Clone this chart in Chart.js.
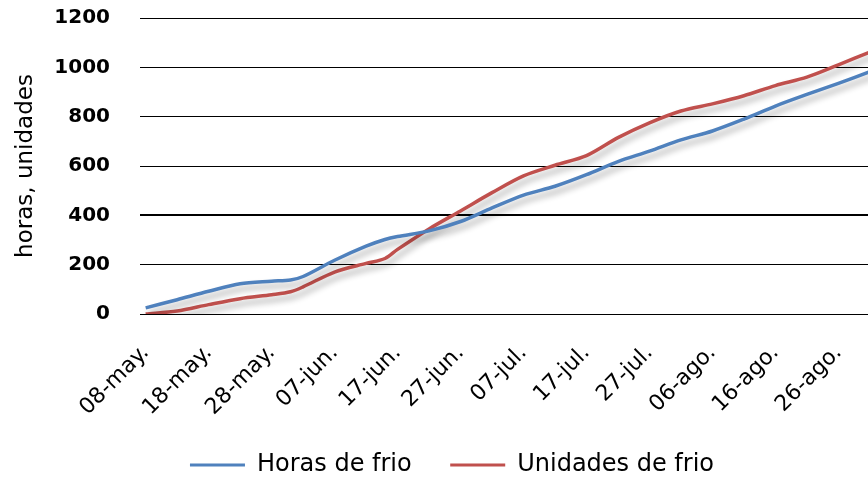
<!DOCTYPE html>
<html>

<head>
    <title>Horas y unidades de frio</title>
    <script src="https://cdn.jsdelivr.net/npm/chart.js"></script>
    <style>
        body {
            margin: 0;
            background: #fff;
        }
    </style>
</head>

<body>
    <canvas id="chart1" width="868" height="478"></canvas>

    <script>
        // dias desde el 08-may.
        const dias = [0, 5, 10, 15, 20, 23, 25, 30, 35, 38, 40, 45, 50, 55, 60, 65, 70, 75, 80, 85, 90, 95, 100, 105, 110, 115];
        const horasFrio = [25, 58, 92, 123, 133, 138, 152, 218, 275, 302, 314, 337, 375, 430, 482, 518, 565, 618, 660, 706, 742, 790, 843, 890, 935, 982];
        const unidadesFrio = [0, 12, 38, 62, 78, 90, 110, 170, 205, 225, 262, 345, 418, 492, 560, 603, 642, 715, 775, 823, 852, 885, 926, 960, 1010, 1062];

        const fechas = ['08-may.', '18-may.', '28-may.', '07-jun.', '17-jun.', '27-jun.', '07-jul.', '17-jul.', '27-jul.', '06-ago.', '16-ago.', '26-ago.'];
        const fechaDias = [0, 10, 20, 30, 40, 50, 60, 70, 80, 90, 100, 110];

        const toPoints = vals => vals.map((v, i) => ({ x: dias[i], y: v }));

        // sombra gris bajo las lineas, como en el grafico de Excel
        const lineShadow = {
            id: 'lineShadow',
            beforeDatasetsDraw(chart) {
                const ctx = chart.ctx;
                ctx.save();
                ctx.shadowColor = 'rgba(0,0,0,0.32)';
                ctx.shadowBlur = 6;
                ctx.shadowOffsetX = 3;
                ctx.shadowOffsetY = 5;
            },
            afterDatasetsDraw(chart) {
                chart.ctx.restore();
            }
        };

        const legendShift = {
            id: 'legendShift',
            afterLayout(chart) {
                chart.legend.left += 18;
                chart.legend.right += 18;
                chart.legend.top += 9;
                chart.legend.bottom += 9;
            }
        };

        new Chart(document.getElementById('chart1'), {
            type: 'line',
            data: {
                datasets: [{
                    label: 'Horas de frio',
                    data: toPoints(horasFrio),
                    borderColor: '#4F81BD',
                    backgroundColor: '#4F81BD',
                    borderWidth: 3.5,
                    pointRadius: 0,
                    tension: 0.3,
                    fill: false
                }, {
                    label: 'Unidades de frio',
                    data: toPoints(unidadesFrio),
                    borderColor: '#C0504D',
                    backgroundColor: '#C0504D',
                    borderWidth: 3.5,
                    pointRadius: 0,
                    tension: 0.3,
                    fill: false
                }]
            },
            options: {
                responsive: false,
                animation: false,
                layout: {
                    padding: { top: 18, left: 0, right: 0, bottom: 0 }
                },
                plugins: {
                    legend: {
                        position: 'bottom',
                        labels: {
                            font: { family: 'DejaVu Sans', size: 24 },
                            color: '#000',
                            boxWidth: 55,
                            boxHeight: 3,
                            padding: 8,
                            generateLabels: chart => Chart.defaults.plugins.legend.labels.generateLabels(chart)
                                .map((l, i) => ({ ...l, lineWidth: 0, text: i === 0 ? l.text + '    ' : l.text }))
                        }
                    },
                    tooltip: { enabled: false }
                },
                scales: {
                    x: {
                        type: 'linear',
                        min: -0.9,
                        max: 114.7,
                        grid: { display: false },
                        border: { display: false },
                        afterBuildTicks: axis => {
                            axis.ticks = fechaDias.map(v => ({ value: v }));
                        },
                        afterFit: axis => {
                            axis.height = 478 - 314 - axis.chart.legend.height;
                            axis.paddingLeft = 0;
                            axis.paddingRight = 0;
                        },
                        ticks: {
                            autoSkip: false,
                            minRotation: 45,
                            maxRotation: 45,
                            padding: 18,
                            color: '#000',
                            font: { family: 'DejaVu Sans', size: 22 },
                            callback: v => fechas[fechaDias.indexOf(v)]
                        }
                    },
                    y: {
                        min: 0,
                        max: 1200,
                        border: { display: false },
                        grid: {
                            color: '#000',
                            drawTicks: false,
                            lineWidth: c => c.tick && c.tick.value === 400 ? 2 : 1
                        },
                        afterFit: axis => {
                            axis.width = 140;
                            axis.paddingTop = 0;
                            axis.paddingBottom = 0;
                        },
                        ticks: {
                            stepSize: 200,
                            padding: 30,
                            color: '#000',
                            font: { family: 'DejaVu Sans', size: 20, weight: 'bold' },
                            callback: v => v
                        },
                        title: {
                            display: true,
                            text: 'horas, unidades',
                            color: '#000',
                            font: { family: 'DejaVu Sans', size: 23 },
                            padding: { top: 12, bottom: 0 }
                        }
                    }
                }
            },
            plugins: [lineShadow, legendShift]
        });
    </script>
</body>

</html>
